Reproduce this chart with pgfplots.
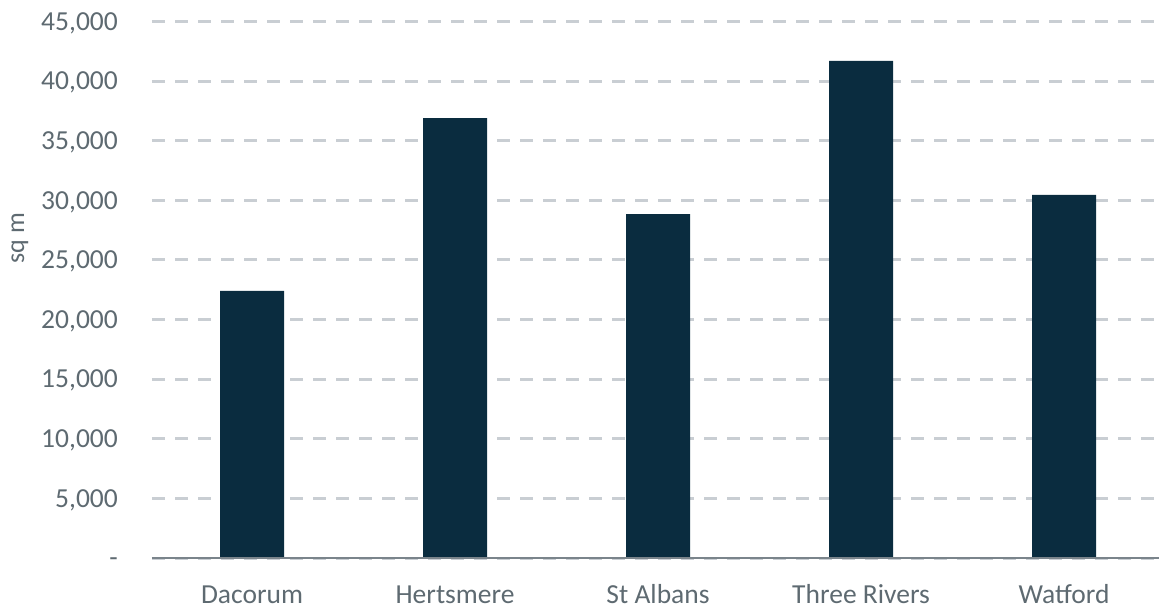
\documentclass[border=0pt]{standalone}
\usepackage{pgfplots}
\pgfplotsset{compat=1.18}
\usepackage{fontspec}
\setmainfont{Carlito}
\definecolor{txt}{HTML}{5E6A71}
\definecolor{gridc}{HTML}{C9CED3}
\definecolor{barc}{HTML}{0A2C3F}
\definecolor{basec}{HTML}{7A848B}
\begin{document}
\begin{tikzpicture}
\useasboundingbox (0pt,0pt) rectangle (1159pt,-610pt);
\begin{axis}[
  at={(152pt,-558pt)}, anchor=south west,
  scale only axis, width=1007pt, height=536.5pt,
  xmin=-0.493, xmax=4.468, ymin=0, ymax=45000,
  clip=false,
  scaled y ticks=false,
  axis line style={draw=none},
  major tick length=0pt,
  xtick={0,1,2,3,4},
  xticklabels={Dacorum,Hertsmere,St Albans,Three Rivers,Watford},
  ytick={0,5000,10000,15000,20000,25000,30000,35000,40000,45000},
  yticklabels={{-},{5,000},{10,000},{15,000},{20,000},{25,000},{30,000},{35,000},{40,000},{45,000}},
  tick label style={font=\fontsize{27.5}{33}\selectfont, text=txt, inner sep=0pt},
  yticklabel style={anchor=base east, xshift=-34pt, yshift=-8.7pt},
  xticklabel style={anchor=base, yshift=-45pt},
  ymajorgrids,
  major grid style={color=gridc, line width=3pt, dash pattern=on 13pt off 10pt},
  ylabel={sq m},
  ylabel style={at={(axis description cs:-0.1311,0.5965)}, anchor=center, inner sep=0pt, font=\fontsize{26}{31}\selectfont, text=txt},
  ybar, bar width=64pt,
]
\addplot[fill=barc, draw=none] coordinates {(0,22400) (1,36900) (2,28850) (3,41700) (4,30450)};
\draw[color=basec, line width=2pt] (rel axis cs:0,0) -- (rel axis cs:1,0);
\end{axis}
\end{tikzpicture}
\end{document}
